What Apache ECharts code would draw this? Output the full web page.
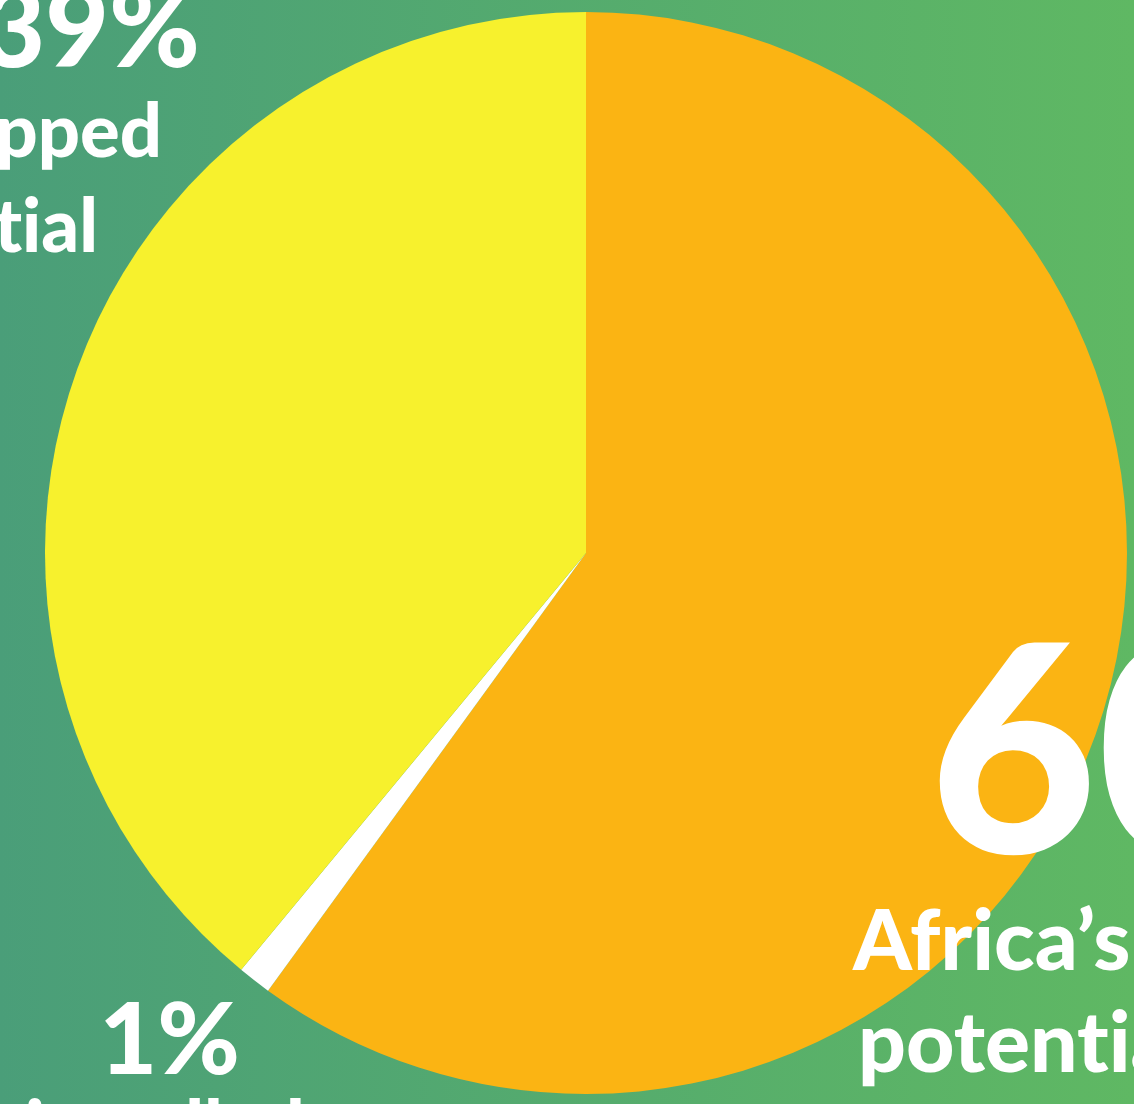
<!DOCTYPE html>
<html>
<head>
<meta charset="utf-8">
<script src="https://cdn.jsdelivr.net/npm/echarts@6/dist/echarts.min.js"></script>
<style>
html,body{margin:0;padding:0;overflow:hidden;}
#chart{width:1134px;height:1104px;background:linear-gradient(to right,#4a9e79,#5fb863);}
</style>
</head>
<body>
<div id="chart"></div>
<script>
// Data
const categories = ['Africa\u2019s solar potential', 'Installed', 'Untapped potential'];
const values = [60, 1, 39];
const sliceColors = ['#FBB413', '#FFFFFF', '#F7F12D'];
const pctLabels = ['60%', '1%', '39%'];
const labelLines60 = ['Africa\u2019s solar', 'potential'];
const labelLines39 = ['Untapped', 'potential'];
const labelLines1 = ['installed', 'capacity'];

const FONT = 'Lato';
// break the "ti" ligature of the font so the letters stay separate
function noLig(s) { return s.replace(/ti/g, 't\u200Ci').replace(/ft/g, 'f\u200Ct'); }
function txt(text, x, baseline, size, align) {
  return {
    type: 'text', z: 10,
    style: {
      text: noLig(text), x: x, y: baseline - size * 0.35,
      fill: '#ffffff',
      font: '900 ' + size + 'px ' + FONT,
      align: align, verticalAlign: 'middle'
    }
  };
}

const chart = echarts.init(document.getElementById('chart'), null, {renderer: 'canvas'});
chart.setOption({
  backgroundColor: 'transparent',
  animation: false,
  series: [{
    type: 'pie',
    center: [586, 553],
    radius: [0, 541],
    startAngle: 90,
    clockwise: true,
    label: {show: false},
    labelLine: {show: false},
    emphasis: {disabled: true},
    itemStyle: {borderWidth: 0},
    data: categories.map((c, i) => ({name: c, value: values[i], itemStyle: {color: sliceColors[i]}}))
  }],
  graphic: [
    txt(pctLabels[2], 200, 70, 110, 'right'),
    txt(labelLines39[0], 162, 159, 74, 'right'),
    txt(labelLines39[1], 98, 254, 74, 'right'),
    txt(pctLabels[0], 929, 861, 290, 'left'),
    txt(labelLines60[0], 853, 972, 84, 'left'),
    txt(labelLines60[1], 858, 1074, 84, 'left'),
    txt(pctLabels[1], 240, 1077, 100, 'right'),
    txt(labelLines1[0], 165, 1156, 74, 'center')
  ]
});
</script>
</body>
</html>
